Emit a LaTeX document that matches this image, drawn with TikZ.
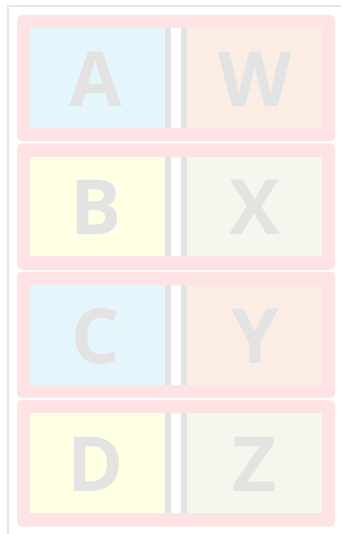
\documentclass[tikz,border=0pt]{standalone}
\usepackage{fontspec}
\newfontfamily\lettfont{Open Sans}
\definecolor{framepink}{HTML}{FDE3E3}
\definecolor{cellblue}{HTML}{E4F6FC}
\definecolor{cellpeach}{HTML}{FBEDE4}
\definecolor{cellyellow}{HTML}{FEFFE3}
\definecolor{cellgreen}{HTML}{F4F7EE}
\definecolor{sepgray}{HTML}{E3E3E3}
\definecolor{edgegray}{HTML}{E6E6E6}
\tikzset{
  rowframe/.style={fill=framepink, draw=none, rounded corners=5pt},
  cell/.style={draw=none},
  sep/.style={fill=sepgray, draw=none},
  gap/.style={fill=white, draw=none},
  letter/.style={anchor=base, inner sep=0pt, text=sepgray, font=\lettfont\bfseries\fontsize{76}{76}\selectfont},
  pageedge/.style={draw=edgegray, line width=2pt}
}
\begin{document}
\begin{tikzpicture}[x=1pt,y=-1pt]
\useasboundingbox (0,0) rectangle (341,534);
\fill[white] (0,0) rectangle (341,534);
\coordinate (tl) at (8,6.5);
\coordinate (tr) at (341,6.5);
\coordinate (bl) at (8,534);
\draw[pageedge] (tr) -- (tl) -- (bl);
\foreach \t/\l/\r/\cl/\cr [count=\i] in {15/A/W/cellblue/cellpeach, 143.3/B/X/cellyellow/cellgreen, 271.7/C/Y/cellblue/cellpeach, 400/D/Z/cellyellow/cellgreen}{
  \fill[rowframe] (17,\t) rectangle (335,\t+126.5);
  \fill[\cl] (30,\t+13.3) rectangle (165,\t+113);
  \fill[sep] (165,\t+13.3) rectangle (171,\t+113);
  \fill[gap] (171,\t+13.3) rectangle (181,\t+113);
  \fill[sep] (181,\t+13.3) rectangle (187,\t+113);
  \fill[\cr] (187,\t+13.3) rectangle (322,\t+113);
  \node[letter] (L\i) at (96,\t+91.5) {\l};
  \node[letter] (R\i) at (255,\t+91.5) {\r};
}
\end{tikzpicture}
\end{document}
